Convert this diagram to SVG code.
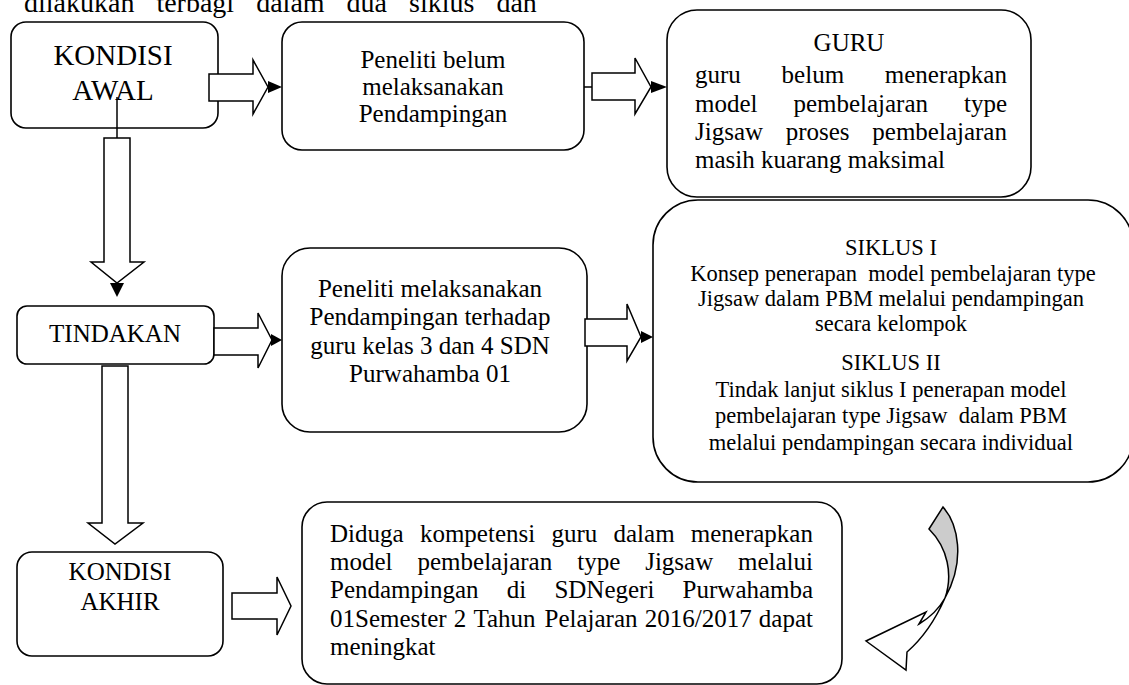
<svg xmlns="http://www.w3.org/2000/svg" width="1129" height="685" viewBox="0 0 1129 685">
<style>
.box{fill:#fff;stroke:#000;stroke-width:1.6}
.t{font-family:"Liberation Serif","Times New Roman",serif;font-size:25px;fill:#000}
.m{text-anchor:middle}
.s{font-size:22.5px}
.big{font-size:29px}
.top{font-size:28px}
.pre{white-space:pre}
.ba{fill:#fff;stroke:#000;stroke-width:1.5;stroke-linejoin:miter}
.ln{fill:none;stroke:#000;stroke-width:1.5}
.ah{fill:#000}
</style>
<rect width="1129" height="685" fill="#fff"/>
<text class="t top" y="12"><tspan x="24">dilakukan</tspan><tspan x="156.4">terbagi</tspan><tspan x="256.2">dalam</tspan><tspan x="346.6">dua</tspan><tspan x="409">siklus</tspan><tspan x="496.4">dan</tspan></text>

<g id="kondisi-awal">
<rect class="box" x="11" y="22" width="207" height="106" rx="15"/>
<text class="t big m" x="113" y="65">KONDISI</text>
<text class="t big m" x="113" y="100">AWAL</text>
</g>
<g id="peneliti-belum">
<rect class="box" x="282" y="22" width="302" height="128" rx="20"/>
<text class="t m" x="433" y="68">Peneliti belum</text>
<text class="t m" x="433" y="95">melaksanakan</text>
<text class="t m" x="433" y="122">Pendampingan</text>
</g>
<g id="guru">
<rect class="box" x="667" y="10" width="364" height="187" rx="30"/>
<text class="t m" x="849" y="51">GURU</text>
<text class="t" y="83"><tspan x="695">guru</tspan><tspan x="781.6">belum</tspan><tspan x="884.8">menerapkan</tspan></text>
<text class="t" y="112"><tspan x="695">model</tspan><tspan x="793.4">pembelajaran</tspan><tspan x="964">type</tspan></text>
<text class="t" y="140"><tspan x="695">Jigsaw</tspan><tspan x="785.7">proses</tspan><tspan x="872.3">pembelajaran</tspan></text>
<text class="t" x="695" y="168">masih kuarang maksimal</text>
</g>
<g id="tindakan">
<rect class="box" x="17" y="306" width="197" height="58" rx="10"/>
<text class="t m" x="115" y="342">TINDAKAN</text>
</g>
<g id="peneliti-melaksanakan">
<rect class="box" x="282" y="248" width="305" height="184" rx="28"/>
<text class="t m" x="430" y="297" font-size="25.5">Peneliti melaksanakan</text>
<text class="t m" x="430" y="325" font-size="25.5">Pendampingan terhadap</text>
<text class="t m" x="430" y="354" font-size="25.5">guru kelas 3 dan 4 SDN</text>
<text class="t m" x="430" y="382" font-size="25.5">Purwahamba 01</text>
</g>
<g id="siklus">
<rect class="box" x="653" y="200" width="480" height="282" rx="45"/>
<text class="t s m" x="891" y="255">SIKLUS I</text>
<text class="t s m pre" x="893" y="281">Konsep penerapan  model pembelajaran type</text>
<text class="t s m" x="891" y="306">Jigsaw dalam PBM melalui pendampingan</text>
<text class="t s m" x="891" y="331">secara kelompok</text>
<text class="t s m" x="891" y="370">SIKLUS II</text>
<text class="t s m" x="891" y="397">Tindak lanjut siklus I penerapan model</text>
<text class="t s m pre" x="891" y="423">pembelajaran type Jigsaw  dalam PBM</text>
<text class="t s m" x="891" y="450">melalui pendampingan secara individual</text>
</g>
<g id="kondisi-akhir">
<rect class="box" x="17" y="552" width="206" height="104" rx="15"/>
<text class="t m" x="120" y="580">KONDISI</text>
<text class="t m" x="120" y="610">AKHIR</text>
</g>
<g id="diduga">
<rect class="box" x="302" y="502" width="540" height="182" rx="25"/>
<text class="t" y="542"><tspan x="330">Diduga</tspan><tspan x="419.9">kompetensi</tspan><tspan x="551.4">guru</tspan><tspan x="613.5">dalam</tspan><tspan x="690.8">menerapkan</tspan></text>
<text class="t" y="570"><tspan x="330">model</tspan><tspan x="417.5">pembelajaran</tspan><tspan x="577.2">type</tspan><tspan x="645.2">Jigsaw</tspan><tspan x="738">melalui</tspan></text>
<text class="t" y="598"><tspan x="330">Pendampingan</tspan><tspan x="506.8">di</tspan><tspan x="554.4">SDNegeri</tspan><tspan x="682.6">Purwahamba</tspan></text>
<text class="t" y="627"><tspan x="330">01Semester</tspan><tspan x="453.8">2</tspan><tspan x="473.5">Tahun</tspan><tspan x="544.5">Pelajaran</tspan><tspan x="644.7">2016/2017</tspan><tspan x="758.8">dapat</tspan></text>
<text class="t" x="330" y="655">meningkat</text>
</g>

<g id="connectors">
<polygon class="ba" points="209,74 253,74 253,60 268,87 253,114 253,101 209,101"/>
<polygon class="ah" points="268,81 282,87 268,93"/>
<line class="ln" x1="584" y1="87" x2="592" y2="87"/>
<polygon class="ba" points="592,73 635,73 635,58 651,87 635,114 635,100 592,100"/>
<polygon class="ah" points="651,81 667,87 651,93"/>
<line class="ln" x1="117" y1="97" x2="117" y2="138"/>
<polygon class="ba" points="104,138 130,138 130,262 144,262 117,283 91,262 104,262"/>
<polygon class="ah" points="110,283 124,283 117,297"/>
<polygon class="ba" points="214,328 258,328 258,313 272,340 258,368 258,355 214,355"/>
<polygon class="ah" points="271,334 282,340 271,346"/>
<polygon class="ba" points="585,319 627,319 627,304 641,337 627,361 627,346 585,346"/>
<polygon class="ah" points="641,331 653,337 641,343"/>
<polygon class="ba" points="102,366 128,366 128,523 143,523 115,544 88,523 102,523"/>
<polygon class="ba" points="232,593 277,593 277,577 291,606 277,635 277,619 232,619"/>
<g id="curved-arrow">
<path d="M929,529 L943,507 C958,524 966,560 945,598 C953,575 948,548 929,529 Z" fill="#cccccc" stroke="#000" stroke-width="1.5" stroke-linejoin="miter"/>
<path d="M945,598 Q936,614 919,624 L926,612 L866,641 L906,670 L907,652 Q930,632 945,598 Z" fill="#fff" stroke="#000" stroke-width="1.5" stroke-linejoin="miter"/>
</g>
</g>
</svg>
